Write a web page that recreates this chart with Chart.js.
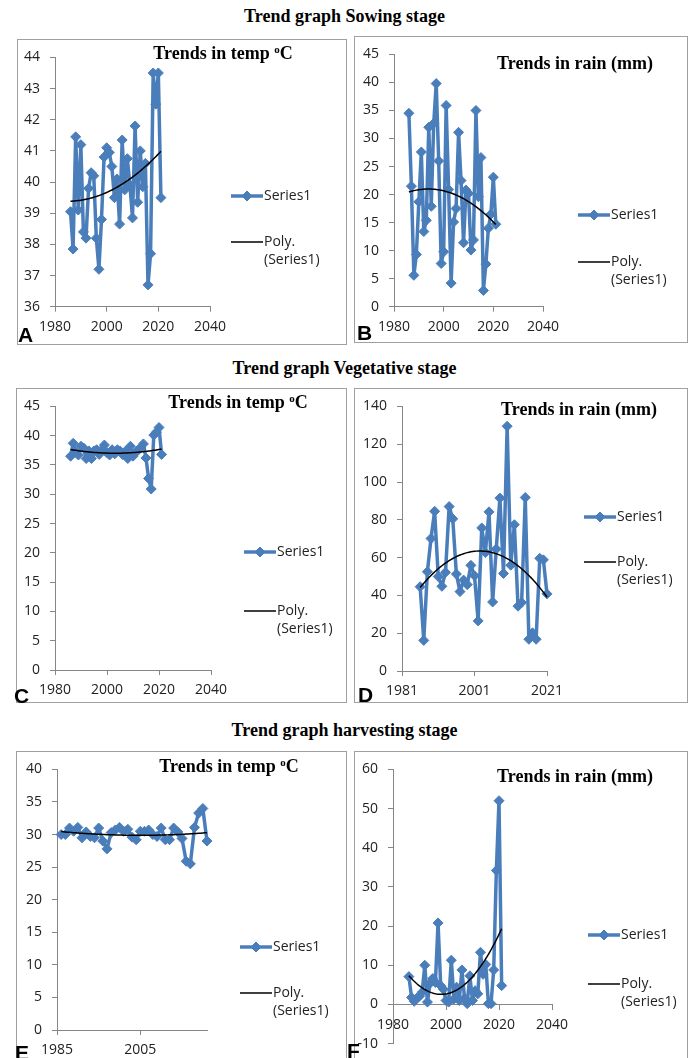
<!DOCTYPE html>
<html>
<head>
<meta charset="utf-8">
<script src="https://cdn.jsdelivr.net/npm/chart.js@4.4.0/dist/chart.umd.min.js"></script>
<style>
  body { margin: 0; background: #fff; }
  #page { position: relative; width: 689px; height: 1058px; overflow: hidden; }
  .stage { position: absolute; left: 0; width: 689px; text-align: center; font: bold 18px "Liberation Serif", serif; line-height: 20px; color: #000; }
  .box { position: absolute; border: 1px solid #a0a0a0; box-sizing: border-box; }
  canvas { position: absolute; }
  .ttl { position: absolute; width: 240px; text-align: center; font: bold 18px "Liberation Serif", serif; line-height: 20px; color: #000; }
  .ttl sup { font-size: 11px; line-height: 0; vertical-align: 6px; }
  .letter { position: absolute; font: bold 21px "Liberation Sans", sans-serif; line-height: 21px; color: #000; }
</style>
</head>
<body>
<div id="page">
  <div class="stage" style="top:6px">Trend graph Sowing stage</div>
  <div class="stage" style="top:358px">Trend graph Vegetative stage</div>
  <div class="stage" style="top:720px">Trend graph harvesting stage</div>
</div>
<script>
// ---- data ----
const years = [1986, 1987, 1988, 1989, 1990, 1991, 1992, 1993, 1994, 1995, 1996, 1997,
  1998, 1999, 2000, 2001, 2002, 2003, 2004, 2005, 2006, 2007, 2008, 2009,
  2010, 2011, 2012, 2013, 2014, 2015, 2016, 2017, 2018, 2019, 2020, 2021];

// sowing stage
const sowTemp = [39.05, 37.85, 41.45, 39.1, 41.2, 38.4, 38.2, 39.8, 40.3, 40.2, 38.2, 37.2,
  38.8, 40.8, 41.1, 40.95, 40.5, 39.5, 40.1, 38.65, 41.35, 39.75, 40.75, 39.9,
  38.85, 41.8, 39.35, 41.0, 39.85, 40.6, 36.7, 37.7, 43.5, 42.5, 43.5, 39.5];
const sowRain = [34.5, 21.5, 5.6, 9.3, 18.7, 27.6, 13.4, 15.4, 32.0, 17.9, 32.7, 39.8,
  26.0, 7.7, 9.8, 35.9, 20.9, 4.2, 15.1, 17.5, 31.1, 22.5, 11.4, 20.8,
  20.2, 10.1, 11.9, 35.0, 19.6, 26.6, 2.9, 7.6, 14.0, 16.5, 23.1, 14.7];

// vegetative stage
const vegTemp = [36.5, 38.7, 37.2, 36.7, 38.2, 37.9, 36.1, 37.4, 36.1, 37.4, 37.6, 36.8,
  37.6, 38.4, 37.1, 36.7, 37.6, 36.9, 37.6, 37.4, 36.8, 37.3, 36.1, 38.2,
  36.5, 37.1, 37.6, 37.9, 38.6, 36.2, 32.7, 30.9, 40.1, 40.6, 41.4, 36.8];
const vegRain = [44.6, 16.2, 52.5, 70.1, 84.5, 50.0, 44.8, 52.2, 87.0, 80.5, 51.3, 42.0,
  48.1, 45.7, 55.9, 50.4, 26.5, 75.7, 62.7, 84.2, 36.5, 64.5, 91.5, 51.6,
  129.5, 56.0, 77.4, 34.3, 36.2, 91.8, 16.8, 20.2, 16.8, 59.6, 58.8, 40.8];

// harvesting stage
const harTemp = [30.0, 30.0, 31.0, 30.5, 31.1, 29.5, 30.4, 29.7, 29.5, 31.0, 29.0, 27.8,
  30.3, 30.7, 31.1, 30.5, 30.8, 29.6, 29.2, 30.5, 30.5, 30.7, 30.0, 29.7,
  31.0, 29.2, 29.2, 31.0, 30.4, 29.4, 25.9, 25.5, 31.1, 33.3, 34.0, 29.0];
const harRain = [7.1, 1.8, 0.8, 1.6, 2.1, 3.1, 10.0, 0.6, 5.4, 6.6, 5.6, 20.8,
  4.8, 3.9, 1.0, 0.6, 11.3, 1.4, 4.4, 1.0, 8.8, 1.6, 0.2, 7.3,
  1.0, 3.5, 2.7, 13.3, 7.7, 10.2, 0.2, 0.2, 8.8, 34.2, 52.0, 4.8];

// x axis tick labels
const xTicksYears = [1980, 2000, 2020, 2040];
const xTicksVegRain = [1981, 2001, 2021];
const xTicksHarTemp = [1985, 2005];

const seriesName = 'Series1';
const trendName = ['Poly.', '(Series1)'];

// ---- look ----
var blue = '#4a7ebb';
var axisGray = '#868686';
var textColor = '#222';
Chart.defaults.font.family = '"Open Sans", sans-serif';
Chart.defaults.font.size = 14;

// panel layout, page pixel coords
var panels = [
  {letter: 'A', values: sowTemp, title: 'temp', box: [17, 39, 347, 345], area: [55, 55.7, 210, 306.7],
    y: [36, 44, 1], x: [1980, 2040], xTicks: xTicksYears, legend: [231, 196, 242], titlePos: [223, 52.5], letterPos: [18, 324]},
  {letter: 'B', values: sowRain, title: 'rain', box: [354, 36, 688, 343], area: [394, 54, 543, 306.7],
    y: [0, 45, 5], x: [1980, 2040], xTicks: xTicksYears, legend: [578, 215, 262], titlePos: [575, 62.5], letterPos: [357, 322]},
  {letter: 'C', values: vegTemp, title: 'temp', box: [16, 388, 347, 703], area: [55, 405, 211, 670],
    y: [0, 45, 5], x: [1980, 2040], xTicks: xTicksYears, legend: [244, 552, 611], titlePos: [238, 402], letterPos: [14, 685]},
  {letter: 'D', values: vegRain, title: 'rain', box: [354, 388, 688, 703], area: [402, 405, 547, 671],
    y: [0, 140, 20], x: [1981, 2021], xTicks: xTicksVegRain, legend: [584, 517, 562], titlePos: [579, 409], letterPos: [358, 684]},
  {letter: 'E', values: harTemp, title: 'temp', box: [16, 751, 347, 1062], area: [57, 768, 207, 1030],
    y: [0, 40, 5], x: [1985, 2021], xTicks: xTicksHarTemp, legend: [240, 947, 993], titlePos: [229, 766], letterPos: [15, 1042]},
  {letter: 'F', values: harRain, title: 'rain', box: [354, 751, 688, 1062], area: [393, 767, 552, 1047],
    y: [-10, 60, 10], x: [1980, 2040], xTicks: xTicksYears, legend: [588, 935, 984], titlePos: [575, 775.5], letterPos: [347, 1040], axisAtZero: true}
];

// 2nd order least squares, like the Excel "Poly." trendline
function polyFit2(xs, ys) {
  var n = xs.length, xm = 0;
  for (var i = 0; i < n; i++) xm += xs[i] / n;
  var s = [0, 0, 0, 0, 0], t = [0, 0, 0];
  for (var i = 0; i < n; i++) {
    var d = xs[i] - xm, p = 1;
    for (var k = 0; k < 5; k++) { s[k] += p; if (k < 3) t[k] += p * ys[i]; p *= d; }
  }
  var det3 = function (m) {
    return m[0][0] * (m[1][1] * m[2][2] - m[1][2] * m[2][1])
      - m[0][1] * (m[1][0] * m[2][2] - m[1][2] * m[2][0])
      + m[0][2] * (m[1][0] * m[2][1] - m[1][1] * m[2][0]);
  };
  var M = [[s[0], s[1], s[2]], [s[1], s[2], s[3]], [s[2], s[3], s[4]]];
  var D = det3(M), c = [];
  for (var j = 0; j < 3; j++) {
    var Mj = M.map(function (row, r) { var rr = row.slice(); rr[j] = t[r]; return rr; });
    c.push(det3(Mj) / D);
  }
  return function (x) { var d = x - xm; return c[0] + c[1] * d + c[2] * d * d; };
}

// legend drawn at the spot Excel put it
var trendLegend = {
  id: 'trendLegend',
  afterDraw: function (chart, args, o) {
    var ctx = chart.ctx;
    ctx.save();
    ctx.strokeStyle = blue; ctx.fillStyle = blue; ctx.lineWidth = 3.5;
    ctx.beginPath(); ctx.moveTo(o.x, o.y1); ctx.lineTo(o.x + 32, o.y1); ctx.stroke();
    var cx = o.x + 16, r = 5;
    ctx.lineWidth = 1;
    ctx.beginPath();
    ctx.moveTo(cx, o.y1 - r); ctx.lineTo(cx + r, o.y1); ctx.lineTo(cx, o.y1 + r); ctx.lineTo(cx - r, o.y1);
    ctx.closePath(); ctx.fill(); ctx.stroke();
    ctx.strokeStyle = '#000'; ctx.lineWidth = 1.5;
    ctx.beginPath(); ctx.moveTo(o.x, o.y2); ctx.lineTo(o.x + 32, o.y2); ctx.stroke();
    ctx.fillStyle = textColor;
    ctx.font = '14px "Open Sans", sans-serif';
    ctx.textBaseline = 'middle';
    ctx.fillText(seriesName, o.x + 33, o.y1);
    ctx.fillText(trendName[0], o.x + 33, o.y2);
    ctx.fillText(trendName[1], o.x + 33, o.y2 + 18);
    ctx.restore();
  }
};

var page = document.getElementById('page');

panels.forEach(function (p) {
  var W = p.box[2] - p.box[0], H = p.box[3] - p.box[1];
  var al = p.area[0] - p.box[0], at = p.area[1] - p.box[1];
  var ar = p.area[2] - p.box[0], ab = p.area[3] - p.box[1];

  var box = document.createElement('div');
  box.className = 'box';
  box.style.cssText = 'left:' + p.box[0] + 'px;top:' + p.box[1] + 'px;width:' + W + 'px;height:' + H + 'px';
  page.appendChild(box);

  var canvas = document.createElement('canvas');
  canvas.width = W; canvas.height = H;
  canvas.style.left = p.box[0] + 'px'; canvas.style.top = p.box[1] + 'px';
  page.appendChild(canvas);

  var ttl = document.createElement('div');
  ttl.className = 'ttl';
  ttl.style.left = (p.titlePos[0] - 120) + 'px';
  ttl.style.top = (p.titlePos[1] - 10) + 'px';
  ttl.innerHTML = p.title == 'temp' ? 'Trends in temp <sup>o</sup>C' : 'Trends in rain (mm)';
  page.appendChild(ttl);

  var lt = document.createElement('div');
  lt.className = 'letter';
  lt.style.left = p.letterPos[0] + 'px'; lt.style.top = p.letterPos[1] + 'px';
  lt.textContent = p.letter;
  page.appendChild(lt);

  var fit = polyFit2(years, p.values);
  var trend = [];
  for (var x = years[0]; x <= years[years.length - 1]; x += 0.5) trend.push({x: x, y: fit(x)});

  var xScale = {
    type: 'linear', min: p.x[0], max: p.x[1],
    position: p.axisAtZero ? {y: 0} : 'bottom',
    afterBuildTicks: function (s) { s.ticks = p.xTicks.map(function (v) { return {value: v}; }); },
    grid: {drawOnChartArea: false, tickLength: 5, color: axisGray},
    border: {color: axisGray},
    ticks: {padding: 7, color: textColor, maxRotation: 0, callback: function (v) { return String(v); }}
  };
  if (!p.axisAtZero) xScale.afterFit = function (s) { s.height = H - ab; };

  new Chart(canvas, {
    type: 'line',
    data: {
      datasets: [
        {label: 'Poly. (Series1)', data: trend, borderColor: '#000', borderWidth: 1.5, pointRadius: 0, tension: 0, clip: false},
        {label: seriesName, data: years.map(function (yr, i) { return {x: yr, y: p.values[i]}; }),
          borderColor: blue, backgroundColor: blue, borderWidth: 3.5, borderJoinStyle: 'round',
          pointStyle: 'rectRot', pointRadius: 5, pointBorderWidth: 1, pointBorderColor: blue, tension: 0, clip: false}
      ]
    },
    options: {
      responsive: false, animation: false, devicePixelRatio: 1,
      layout: {padding: {left: 0, top: at, right: W - ar, bottom: p.axisAtZero ? H - ab : 0}},
      plugins: {
        legend: {display: false}, tooltip: {enabled: false},
        trendLegend: {x: p.legend[0] - p.box[0], y1: p.legend[1] - p.box[1], y2: p.legend[2] - p.box[1]}
      },
      scales: {
        x: xScale,
        y: {
          min: p.y[0], max: p.y[1],
          afterFit: function (s) { s.width = al; },
          grid: {drawOnChartArea: false, tickLength: 5, color: axisGray},
          border: {color: axisGray},
          ticks: {stepSize: p.y[2], padding: 10, color: textColor}
        }
      }
    },
    plugins: [trendLegend]
  });
});
</script>
</body>
</html>
